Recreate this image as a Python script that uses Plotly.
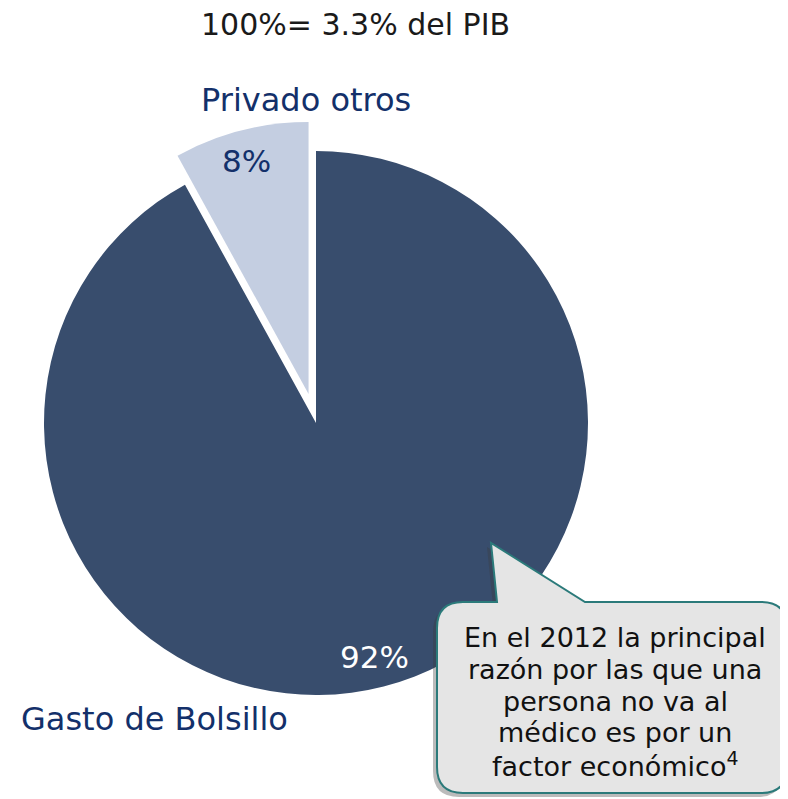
import plotly.graph_objects as go

# ---- data ----
categories = ["Gasto de Bolsillo", "Privado otros"]
values = [92, 8]
pull_values = [0, 0.11]
title_text = "100%= 3.3% del PIB"
callout_lines = [
    "En el 2012 la principal",
    "razón por las que una",
    "persona no va al",
    "médico es por un",
    "factor económico<sup>4</sup>",
]

OFF = 8  # default page body margin
W, H = 788 - OFF, 799 - OFF
FONT = "DejaVu Sans"
NAVY = "#13306A"
DARK = "#384D6D"
LIGHT = "#C4CEE1"


def px(x):
    return (x - OFF) / W


def py(y):
    return 1 - (y - OFF) / H


# pie geometry (window pixels)
cx, cy, r = 316, 423, 272
half = r * (1 + max(pull_values))

fig = go.Figure()
fig.add_trace(go.Pie(
    values=values,
    labels=categories,
    sort=False,
    direction="clockwise",
    rotation=0,
    pull=pull_values,
    marker=dict(colors=[DARK, LIGHT], line=dict(width=0)),
    textinfo="none",
    hoverinfo="label+percent",
    showlegend=False,
    domain=dict(x=[px(cx - half), px(cx + half)], y=[py(cy + half), py(cy - half)]),
))


def ann(text, x, y, size, color):
    return dict(text=text, x=px(x), y=py(y), xref="paper", yref="paper",
                xanchor="center", yanchor="middle", showarrow=False,
                font=dict(family=FONT, size=size, color=color))


anns = [
    ann(title_text, 355, 24, 30, "#1a1a1a"),
    ann(categories[1], 306, 100, 32, NAVY),
    ann(categories[0], 154, 719, 32, NAVY),
    ann(f"{values[1]}%", 246, 161, 31, NAVY),
    ann(f"{values[0]}%", 374, 657, 31, "white"),
]

line_y = [637, 669, 701, 732, 764]
for t, yy in zip(callout_lines, line_y):
    anns.append(ann(t, 615, yy, 27, "#111111"))


def callout_path(dx=0, dy=0):
    L, T, R, B, rad = 437 + dx, 602 + dy, 787 + dx, 793 + dy, 26
    tip = (491 + dx, 543 + dy)
    b1 = 497 + dx
    b2 = 585 + dx
    pts = [
        ("M", (L + rad, T)),
        ("L", (b1, T)),
        ("L", tip),
        ("L", (b2, T)),
        ("L", (R - rad, T)),
        ("Q", (R, T), (R, T + rad)),
        ("L", (R, B - rad)),
        ("Q", (R, B), (R - rad, B)),
        ("L", (L + rad, B)),
        ("Q", (L, B), (L, B - rad)),
        ("L", (L, T + rad)),
        ("Q", (L, T), (L + rad, T)),
    ]
    s = ""
    for p in pts:
        coords = " ".join(f"{px(x):.5f},{py(y):.5f}" for x, y in p[1:])
        s += f"{p[0]} {coords} "
    return s + "Z"


shapes = [
    dict(type="path", path=callout_path(-4, 4), xref="paper", yref="paper",
         fillcolor="rgba(60,60,60,0.35)", line=dict(width=0), layer="above"),
    dict(type="path", path=callout_path(), xref="paper", yref="paper",
         fillcolor="#E5E5E5", line=dict(color="#2B7A7A", width=2), layer="above"),
]

fig.update_layout(
    width=W, height=H,
    margin=dict(l=0, r=0, t=0, b=0),
    paper_bgcolor="white", plot_bgcolor="white",
    annotations=anns,
    shapes=shapes,
    font=dict(family=FONT),
)

fig.write_html("out.html")
